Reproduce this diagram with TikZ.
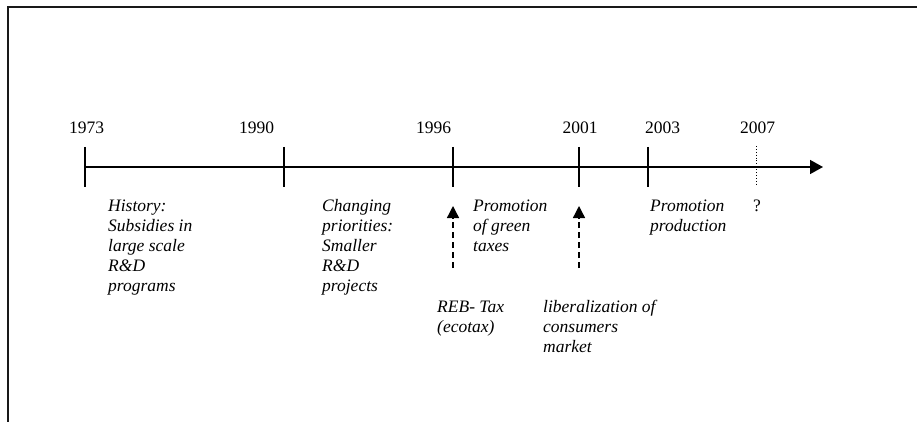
\documentclass[tikz,border=0pt]{standalone}
\usepackage{fontspec}
\setmainfont{Liberation Serif}
\usetikzlibrary{arrows.meta}

\tikzset{
  frameline/.style={line width=1.5pt, draw=black!90},
  axisline/.style={line width=1.5pt},
  tickline/.style={line width=1.6pt},
  futuretick/.style={line width=0.9pt, dotted},
  yearlabel/.style={anchor=base, inner sep=0pt, font=\fontsize{17.5}{20}\selectfont},
  % multi-line labels: the base anchor sits on the last line's baseline
  phaselabel/.style={anchor=base west, inner sep=0pt, align=left, font=\fontsize{17.5}{20}\selectfont\itshape},
  eventarrow/.style={line width=1.3pt, dash pattern=on 6pt off 4pt, -{Triangle[length=12pt,width=12pt]}},
}

\begin{document}
\begin{tikzpicture}[x=1pt, y=-1pt]
  \useasboundingbox (0,0) rectangle (917,422);

  % outer frame (top and left edges)
  \coordinate (frameTR) at (917,7);
  \coordinate (frameTL) at (8,7);
  \coordinate (frameBL) at (8,422);
  \draw[frameline] (frameTR) -- (frameTL) -- (frameBL);

  % time axis
  \coordinate (axisStart) at (85,167);
  \coordinate (axisEnd) at (823,167);
  \draw[axisline, -{Triangle[length=13pt,width=14pt]}] (axisStart) -- (axisEnd);

  % year ticks
  \foreach \yr/\xx in {1973/85, 1990/284, 1996/453, 2001/579, 2003/648} {
    \coordinate (tickTop\yr) at (\xx,147);
    \coordinate (tickBot\yr) at (\xx,187);
    \draw[tickline] (tickTop\yr) -- (tickBot\yr);
  }
  \coordinate (tickTop2007) at (756,146);
  \coordinate (tickBot2007) at (756,185);
  \draw[futuretick] (tickTop2007) -- (tickBot2007);

  % year labels
  \node[yearlabel] (y1973) at (86.5,133.5) {1973};
  \node[yearlabel] (y1990) at (256.5,133.5) {1990};
  \node[yearlabel] (y1996) at (433.5,133.5) {1996};
  \node[yearlabel] (y2001) at (580,133.5) {2001};
  \node[yearlabel] (y2003) at (662.5,133.5) {2003};
  \node[yearlabel] (y2007) at (757.5,133.5) {2007};

  % phase descriptions (first baseline at 211, lines 20 apart)
  \node[phaselabel] (history) at (108,291) {History:\\Subsidies in\\large scale\\R\&D\\programs};
  \node[phaselabel] (changing) at (322,291) {Changing\\priorities:\\Smaller\\R\&D\\projects};
  \node[phaselabel] (green) at (473,251) {Promotion\\of green\\taxes};
  \node[phaselabel] (production) at (650,231) {Promotion\\production};
  \node[yearlabel] (unknown) at (757,211) {?};

  % events below the axis (first baseline at 312)
  \node[phaselabel] (reb) at (437,332) {REB- Tax\\(ecotax)};
  \node[phaselabel] (liberal) at (543,352) {liberalization of\\consumers\\market};

  \coordinate (rebFrom) at (453,268);
  \coordinate (rebTo) at (453,206);
  \coordinate (libFrom) at (579,268);
  \coordinate (libTo) at (579,206);
  \draw[eventarrow] (rebFrom) -- (rebTo);
  \draw[eventarrow] (libFrom) -- (libTo);
\end{tikzpicture}
\end{document}
